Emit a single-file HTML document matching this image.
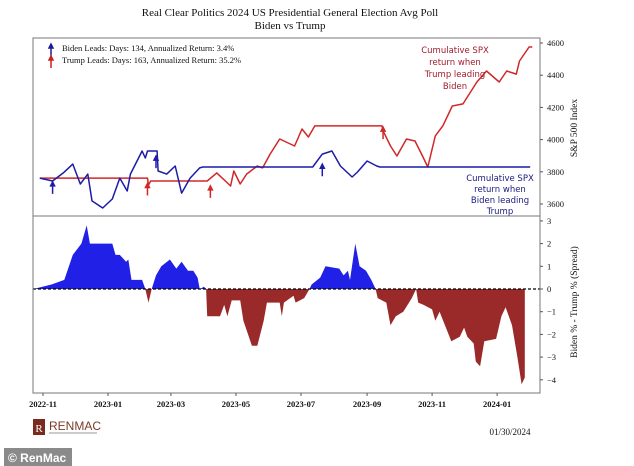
<!DOCTYPE html>
<html><head><meta charset="utf-8"><style>
html,body{margin:0;padding:0;background:#fff;}
svg{display:block;}
.s{font-family:"Liberation Serif",serif;}
.c{font-family:"DejaVu Sans","Liberation Sans",sans-serif;}
</style></head><body>
<svg id="chart" width="634" height="466" viewBox="0 0 634 466" xmlns="http://www.w3.org/2000/svg">
<rect x="0" y="0" width="634" height="466" fill="#fff"/>
<text class="s" x="290" y="16" font-size="11" text-anchor="middle" fill="#111">Real Clear Politics 2024 US Presidential General Election Avg Poll</text>
<text class="s" x="290" y="29" font-size="11" text-anchor="middle" fill="#111">Biden vs Trump</text>
<g id="topg"></g>
<g id="botg"></g>
<rect x="33" y="38" width="507" height="178" fill="none" stroke="#777" stroke-width="1"/>
<rect x="33" y="216" width="507" height="177" fill="none" stroke="#777" stroke-width="1"/>
<g>
<path d="M51,56 V47 M49,48 L51,44 L53,48 Z" stroke="#1a1aa0" stroke-width="1.5" fill="#1a1aa0"/>
<text class="s" x="62" y="51" font-size="8.5" fill="#111">Biden Leads:   Days: 134, Annualized Return: 3.4%</text>
<path d="M51,68 V59 M49,60 L51,56 L53,60 Z" stroke="#cc2020" stroke-width="1.5" fill="#cc2020"/>
<text class="s" x="62" y="63" font-size="8.5" fill="#111">Trump Leads:   Days: 163, Annualized Return: 35.2%</text>
</g>
<g class="c" font-size="8.5" text-anchor="middle" fill="#a01c2c">
<text x="455" y="53">Cumulative SPX</text><text x="455" y="65">return when</text><text x="455" y="77">Trump leading</text><text x="455" y="89">Biden</text></g>
<g class="c" font-size="8.5" text-anchor="middle" fill="#1a1a80">
<text x="500" y="181">Cumulative SPX</text><text x="500" y="192">return when</text><text x="500" y="203">Biden leading</text><text x="500" y="214">Trump</text></g>
<text class="s" transform="translate(577,128) rotate(-90)" font-size="9.5" text-anchor="middle" fill="#111">S&amp;P 500 Index</text>
<text class="s" transform="translate(577,302) rotate(-90)" font-size="9.5" text-anchor="middle" fill="#111">Biden % - Trump % (Spread)</text>
<g>
<rect x="33" y="419" width="12" height="16" fill="#7a2a1e"/>
<text class="s" x="39" y="432" font-size="11" fill="#fff" text-anchor="middle">R</text>
<text x="49" y="430" font-family="Liberation Sans,sans-serif" font-size="12" fill="#7a3a2a">RENMAC</text>
<rect x="49" y="432" width="48" height="2" fill="#ccc"/>
</g>
<text class="s" x="510" y="435" font-size="9" text-anchor="middle" fill="#111">01/30/2024</text>
<rect x="4" y="448" width="68" height="18" fill="#8a8a8a"/>
<text x="8" y="462" font-family="Liberation Sans,sans-serif" font-weight="bold" font-size="12" fill="#fff">© RenMac</text>
</svg>
<script>
const bidenDays = [-3,9,19,28,35,42,46,56,65,72,79,82,93,96,98,107,108,116,124,130,138,147,150,253,262,271,279,290,295,304,313,316,457];
const bidenSpx = [3761,3743,3793,3848,3724,3786,3619,3575,3631,3761,3681,3786,3929,3886,3929,3929,3805,3786,3836,3668,3761,3824,3830,3830,3910,3929,3836,3768,3799,3867,3836,3830,3830];
const trumpDays = [-3,98,99,101,154,163,176,179,185,191,201,206,213,222,236,243,249,255,318,319,326,332,341,349,356,361,368,375,384,394,407,416,428,435,444,447,456,459];
const trumpSpx = [3761,3761,3718,3743,3743,3793,3712,3805,3724,3786,3836,3824,3910,4004,3960,4066,4016,4085,4085,4054,3960,3898,4004,3991,3898,3830,4023,4085,4209,4222,4358,4426,4358,4426,4407,4488,4575,4575];
const spreadDays = [-9,8,20,28,36,41,44,65,68,72,78,80,83,93,96,99,102,106,111,119,125,130,136,141,145,147,151,153,154,166,170,173,177,185,188,196,201,207,210,222,224,226,235,237,245,250,252,260,265,278,282,286,288,293,297,303,308,312,314,322,326,331,338,346,350,352,357,365,368,372,378,383,391,395,398,404,406,410,414,425,430,434,440,445,449,452];
const spreadVals = [0,0.2,0.4,1.5,2.0,2.8,2.0,2.0,1.5,1.5,1.2,1.3,0.4,0.4,0,-0.6,0,0.6,1.0,1.3,0.9,1.2,0.8,0.8,0.5,0,0.1,0,-1.2,-1.2,-0.7,-1.2,-0.5,-0.5,-1.4,-2.5,-2.5,-1.4,-0.6,-0.6,-1.2,-0.6,-0.3,-0.6,-0.4,0,0.2,0.5,1.0,0.9,0.6,0.8,0.4,2.0,1.0,0.8,0.4,0,-0.4,-0.6,-1.6,-1.2,-1.0,-0.4,0,-0.6,-0.7,-0.9,-1.4,-1.0,-1.7,-2.3,-2.1,-1.7,-2.1,-2.4,-3.2,-3.4,-2.3,-2.2,-1.2,-0.8,-1.6,-3.0,-4.2,-3.9];
const xTickDays = [0,61,120,181,242,304,365,426];
const xTickLabels = ["2022-11","2023-01","2023-03","2023-05","2023-07","2023-09","2023-11","2024-01"];
const spxTicks = [3600,3800,4000,4200,4400,4600];
const spreadTicks = [3,2,1,0,-1,-2,-3,-4];
const bidenArrows = [[9,3700],[106,3860],[262,3810]];
const trumpArrows = [[98,3690],[157,3675],[319,4040]];

const NS="http://www.w3.org/2000/svg";
const X = d => 43 + d*1.066;
const Ys = v => 204 - (v-3600)*0.161;
const Yd = v => 289 - v*22.7;
function mk(tag, attrs, parent){const e=document.createElementNS(NS,tag);for(const k in attrs)e.setAttribute(k,attrs[k]);parent.appendChild(e);return e;}
const topG=document.getElementById('topg'), botG=document.getElementById('botg');

let d='M'+X(spreadDays[0])+','+Yd(0);
spreadDays.forEach((dd,i)=>{d+=' L'+X(dd).toFixed(1)+','+Yd(spreadVals[i]).toFixed(1);});
d+=' L'+X(spreadDays[spreadDays.length-1])+','+Yd(0)+' Z';
const defs=mk('defs',{},botG);
const cp1=mk('clipPath',{id:'pos'},defs); mk('rect',{x:33,y:216,width:507,height:Yd(0)-216},cp1);
const cp2=mk('clipPath',{id:'neg'},defs); mk('rect',{x:33,y:Yd(0),width:507,height:393-Yd(0)},cp2);
const pa=mk('path',{d:d,fill:'#2020e6','clip-path':'url(#pos)'},botG);


const na=mk('path',{d:d,fill:'#9a2a2a','clip-path':'url(#neg)'},botG);


const zl=mk('line',{x1:33,x2:540,y1:Yd(0),y2:Yd(0),stroke:'#000','stroke-width':1.3,'stroke-dasharray':'3,2'},botG);



function line(days, vals, color, name){
  const p=days.map((dd,i)=>X(dd).toFixed(1)+','+Ys(vals[i]).toFixed(1)).join(' ');
  const e=mk('polyline',{points:p,fill:'none',stroke:color,'stroke-width':1.5,'stroke-linejoin':'round'},topG);
  
  
}
line(trumpDays,trumpSpx,'#d02828','trump-cumulative-line');
line(bidenDays,bidenSpx,'#1c1ca8','biden-cumulative-line');

function arrow(dd,v,color,name){
  const x=X(dd), y=Ys(v);
  const t=mk('path',{d:'M'+x+','+(y+6)+' V'+(y-3)+' M'+(x-2)+','+(y-2)+' L'+x+','+(y-6)+' L'+(x+2)+','+(y-2)+' Z',stroke:color,'stroke-width':1.5,fill:color},topG);
  
  
}
bidenArrows.forEach(a=>arrow(a[0],a[1],'#1c1ca8','biden-lead-arrow'));
trumpArrows.forEach(a=>arrow(a[0],a[1],'#d02828','trump-lead-arrow'));

const svg=document.getElementById('chart');
xTickDays.forEach((dd,i)=>{
  mk('line',{x1:X(dd),x2:X(dd),y1:393,y2:396,stroke:'#555'},svg);
  const t=mk('text',{x:X(dd),y:407,'font-size':8.5,'text-anchor':'middle',fill:'#111','font-family':'Liberation Serif,serif','font-weight':'bold'},svg);
  t.textContent=xTickLabels[i];
  
  
});
spxTicks.forEach(v=>{
  mk('line',{x1:540,x2:543,y1:Ys(v),y2:Ys(v),stroke:'#555'},svg);
  const t=mk('text',{x:547,y:Ys(v)+3,'font-size':8.5,fill:'#111','font-family':'Liberation Serif,serif'},svg);
  t.textContent=v;
  
  
});
spreadTicks.forEach(v=>{
  mk('line',{x1:540,x2:543,y1:Yd(v),y2:Yd(v),stroke:'#555'},svg);
  const t=mk('text',{x:547,y:Yd(v)+3,'font-size':8.5,fill:'#111','font-family':'Liberation Serif,serif'},svg);
  t.textContent=v<0?'−'+(-v):v;
  
  
});
</script>
</body></html>
